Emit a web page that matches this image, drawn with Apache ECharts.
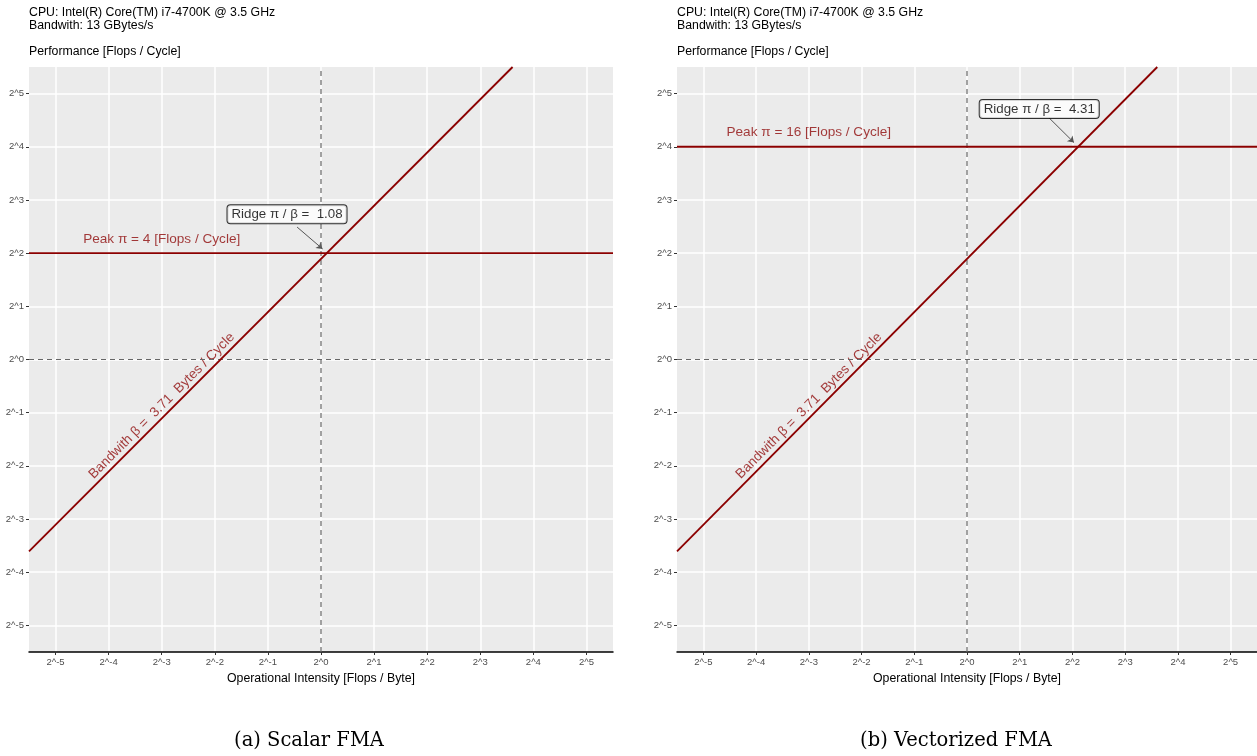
<!DOCTYPE html>
<html>
<head>
<meta charset="utf-8">
<script src="https://cdn.jsdelivr.net/npm/echarts@6/dist/echarts.min.js"></script>
<style>
  html, body { margin: 0; padding: 0; background: #fff; }
  #main { width: 1257px; height: 756px; }
</style>
</head>
<body>
<div id="main"></div>
<script>
// chart data
var panelCaptions = ['(a) Scalar FMA', '(b) Vectorized FMA'];
var peakFlops = [4, 16];            // flops / cycle
var bandwidthBytes = 3.71;          // bytes / cycle
var cpuName = 'CPU: Intel(R) Core(TM) i7-4700K @ 3.5 GHz';
var bandwidthGB = 'Bandwith: 13 GBytes/s';
var tickExponents = [-5, -4, -3, -2, -1, 0, 1, 2, 3, 4, 5];
var axisLimit = [-5.5, 5.5];       // log2 range of both axes

// annotation anchors, in log2 units
var peakLabelPos = [[-3, 2.27], [-3, 4.27]];
var bwLabelPos = [[-3, -0.87], [-3, -0.87]];
var ridgeBoxPos = [[-0.64, 2.73], [1.37, 4.71]];
var ridgeArrowFrom = [[-0.45, 2.49], [1.56, 4.54]];

var RED = '#8B0000';
var RED_TEXT = '#8E0A0A';
var FONT = 'Liberation Sans, Arial, sans-serif';

var grids = [
  { left: 29, top: 67, width: 584, height: 585 },
  { left: 677, top: 67, width: 583, height: 585 }
];

function log2(v) { return Math.log(v) / Math.LN2; }
function fmt(v) { return '2^' + v; }

var option = {
  animation: false,
  backgroundColor: '#fff',
  title: [],
  grid: [],
  xAxis: [],
  yAxis: [],
  series: []
};

grids.forEach(function (g, i) {
  option.grid.push({
    left: g.left, top: g.top, width: g.width, height: g.height,
    backgroundColor: '#EBEBEB', show: true, borderWidth: 0
  });

  option.title.push({
    text: cpuName + '\n' + bandwidthGB,
    left: g.left, top: 6, padding: 0,
    textStyle: { fontFamily: FONT, fontSize: 12.3, fontWeight: 'normal', color: '#000', lineHeight: 13 }
  });
  option.title.push({
    text: 'Performance [Flops / Cycle]',
    left: g.left, top: 46, padding: 0,
    textStyle: { fontFamily: FONT, fontSize: 12.3, fontWeight: 'normal', color: '#000' }
  });
  option.title.push({
    text: panelCaptions[i],
    left: (i === 0 ? 309 : 956), top: 731, textAlign: 'center', padding: 0,
    textStyle: { fontFamily: 'DejaVu Serif, serif', fontSize: 19.5, fontWeight: 'normal', color: '#000' }
  });

  option.xAxis.push({
    type: 'value', gridIndex: i,
    min: axisLimit[0], max: axisLimit[1],
    name: 'Operational Intensity [Flops / Byte]',
    nameLocation: 'middle', nameGap: 21,
    nameTextStyle: { fontFamily: FONT, fontSize: 12.3, color: '#000' },
    axisLine: { show: true, onZero: false, lineStyle: { color: '#000', width: 1.5 } },
    axisTick: { show: true, length: 3, customValues: tickExponents, lineStyle: { color: '#333' } },
    axisLabel: { customValues: tickExponents, formatter: fmt, fontFamily: FONT, fontSize: 9.5, color: '#4D4D4D', margin: 5 },
    splitLine: { show: true, lineStyle: { color: '#fff', width: 1.5 } }
  });
  option.yAxis.push({
    type: 'value', gridIndex: i,
    min: axisLimit[0], max: axisLimit[1],
    axisLine: { show: false, onZero: false },
    axisTick: { show: true, length: 3, customValues: tickExponents, lineStyle: { color: '#333' } },
    axisLabel: { customValues: tickExponents, formatter: fmt, fontFamily: FONT, fontSize: 9.5, color: '#4D4D4D', margin: 5 },
    splitLine: { show: true, lineStyle: { color: '#fff', width: 1.5 } }
  });

  var peak = log2(peakFlops[i]);
  var bw = log2(bandwidthBytes);
  var ridge = peakFlops[i] / bandwidthBytes;
  var ridgeX = log2(ridge);

  // dashed reference lines at 2^0
  option.series.push({
    type: 'line', xAxisIndex: i, yAxisIndex: i, symbol: 'none', silent: true,
    data: [[0, axisLimit[0]], [0, axisLimit[1]]],
    lineStyle: { color: '#666', width: 1.2, type: [5, 4] }
  });
  option.series.push({
    type: 'line', xAxisIndex: i, yAxisIndex: i, symbol: 'none', silent: true,
    data: [[axisLimit[0], 0], [axisLimit[1], 0]],
    lineStyle: { color: '#666', width: 1.2, type: [5, 4] }
  });
  // peak performance
  option.series.push({
    type: 'line', xAxisIndex: i, yAxisIndex: i, symbol: 'none',
    data: [[axisLimit[0], peak], [axisLimit[1], peak]],
    lineStyle: { color: RED, width: 1.8 }
  });
  // bandwidth roof
  option.series.push({
    type: 'line', xAxisIndex: i, yAxisIndex: i, symbol: 'none', clip: true,
    data: [[axisLimit[0], axisLimit[0] + bw], [axisLimit[1] - bw, axisLimit[1]]],
    lineStyle: { color: RED, width: 1.8 }
  });
  // labels
  option.series.push({
    type: 'scatter', xAxisIndex: i, yAxisIndex: i, symbolSize: 0,
    data: [peakLabelPos[i]],
    label: {
      show: true, position: 'inside',
      formatter: 'Peak \u03c0 = ' + peakFlops[i] + ' [Flops / Cycle]',
      fontFamily: FONT, fontSize: 13.6, color: RED_TEXT
    }
  });
  option.series.push({
    type: 'scatter', xAxisIndex: i, yAxisIndex: i, symbolSize: 0,
    data: [bwLabelPos[i]],
    label: {
      show: true, position: 'inside', rotate: 45,
      formatter: 'Bandwith \u03b2 =  ' + bandwidthBytes.toFixed(2) + '  Bytes / Cycle',
      fontFamily: FONT, fontSize: 13.6, color: RED_TEXT
    }
  });
  option.series.push({
    type: 'lines', coordinateSystem: 'cartesian2d', xAxisIndex: i, yAxisIndex: i,
    symbol: ['none', 'arrow'], symbolSize: 6,
    data: [{ coords: [ridgeArrowFrom[i], [ridgeX - 0.08, peak + 0.08]] }],
    lineStyle: { color: '#555', width: 1, opacity: 1 }
  });
  option.series.push({
    type: 'scatter', xAxisIndex: i, yAxisIndex: i, symbolSize: 0,
    data: [ridgeBoxPos[i]],
    label: {
      show: true, position: 'inside',
      formatter: 'Ridge \u03c0 / \u03b2 =  ' + ridge.toFixed(2),
      fontFamily: FONT, fontSize: 13.3, color: '#000',
      backgroundColor: '#fff', borderColor: '#000', borderWidth: 1, borderRadius: 3,
      padding: [3, 4, 2, 4]
    },
    z: 5
  });
});

var chart = echarts.init(document.getElementById('main'), null, { renderer: 'canvas' });
chart.setOption(option);
</script>
</body>
</html>
